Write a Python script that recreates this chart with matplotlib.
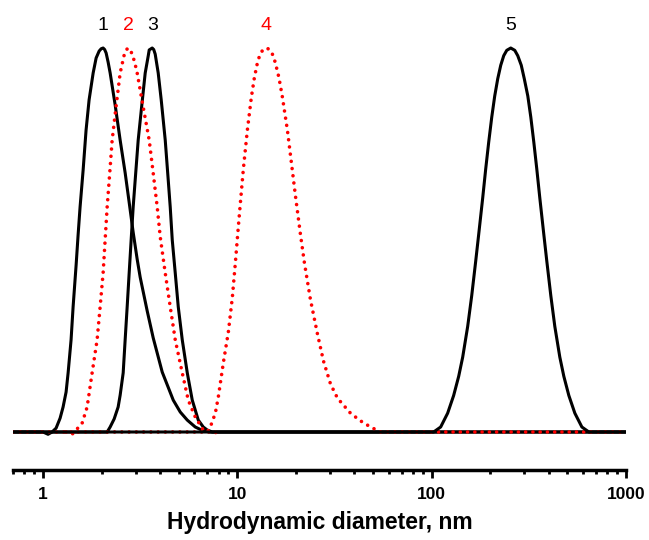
import matplotlib
matplotlib.use("Agg")
import matplotlib.pyplot as plt
from matplotlib.ticker import LogLocator, NullFormatter

plt.rcParams['font.family'] = ['Liberation Sans', 'DejaVu Sans']

# Size distributions: hydrodynamic diameter (nm) vs. normalised intensity (%)
d1 = [0.7, 1.0, 1.061, 1.113, 1.167, 1.224, 1.268, 1.314, 1.346, 1.394, 1.428,
      1.480, 1.515, 1.551, 1.608, 1.665, 1.726, 1.811, 1.876, 1.944, 1.991,
      2.038, 2.075, 2.112, 2.163, 2.215, 2.350, 2.494, 2.646, 2.775, 2.910,
      3.051, 3.162, 3.437, 3.690, 4.106, 4.679, 5.084, 5.525, 6.074, 6.678,
      7.258, 1000]
i1 = [0, 0, -0.6, 0, 1.0, 3.6, 6.5, 10.4, 15.4, 24.0, 32.6,
      43.5, 51.3, 58.6, 68.2, 78.6, 86.5, 93.5, 97.4, 99.2, 99.8,
      100, 99.6, 98.7, 96.3, 93.5, 85.2, 76.0, 67.5, 59.8, 52.0,
      45.0, 40.3, 31.5, 24.5, 15.6, 8.3, 5.2, 3.1, 1.3, 0.3,
      0, 0]

d2 = [1.314, 1.411, 1.497, 1.589, 1.686, 1.789, 1.898, 1.967, 2.038, 2.087,
      2.138, 2.215, 2.268, 2.378, 2.494, 2.616, 2.678, 2.743, 2.808, 2.876,
      2.962, 3.051, 3.278, 3.519, 3.690, 3.869, 4.010, 4.255, 4.514, 4.791,
      5.206, 5.590, 6.074, 6.679, 7.432, 8.0]
i2 = [0, -0.6, 0.8, 2.3, 6.5, 15.4, 24.0, 32.6, 41.4, 50.0,
      58.6, 68.9, 76.0, 84.9, 93.5, 98.2, 99.5, 100, 99.5, 98.4,
      96.3, 93.5, 84.6, 76.0, 67.4, 58.6, 50.8, 41.4, 32.6, 24.0,
      15.4, 8.3, 3.9, 0.5, -0.3, 0]

d3 = [0.7, 2.138, 2.215, 2.323, 2.435, 2.494, 2.585, 2.646, 2.710, 2.775,
      2.841, 2.910, 2.980, 3.088, 3.200, 3.356, 3.477, 3.519, 3.646, 3.712,
      3.778, 3.915, 4.057, 4.255, 4.409, 4.514, 4.624, 4.791, 4.965, 5.206,
      5.525, 5.861, 6.295, 6.679, 7.004, 7.432, 1000]
i3 = [0, 0, 1.3, 3.4, 6.5, 9.6, 15.4, 24.0, 32.6, 41.4,
      50.0, 58.6, 65.6, 76.0, 83.6, 93.5, 97.9, 99.5, 100, 99.6,
      98.4, 93.5, 86.5, 76.0, 65.6, 58.6, 50.0, 41.4, 32.6, 24.0,
      15.4, 8.3, 3.1, 1.3, 0.5, 0, 0]

d4 = [0.7, 7.004, 7.258, 7.704, 7.981, 8.470, 8.987, 9.424, 9.766, 10.12,
      10.36, 10.74, 11.26, 11.81, 12.24, 12.68, 12.98, 13.30, 13.69, 14.11,
      14.54, 14.97, 15.33, 15.70, 16.37, 17.06, 18.10, 18.98, 19.91, 21.12,
      22.15, 23.78, 25.85, 27.75, 30.17, 32.77, 38.23, 43.05, 48.49, 54.60,
      1000]
i4 = [0, 0, 1.3, 4.9, 9.1, 18.0, 26.0, 35.0, 44.0, 53.5,
      59.5, 68.5, 78.6, 87.2, 92.3, 96.1, 97.8, 99.0, 99.7, 100,
      99.7, 99.0, 97.8, 96.1, 92.3, 87.2, 78.6, 70.1, 61.5, 51.5,
      44.0, 34.5, 25.5, 18.5, 12.5, 8.8, 4.9, 2.9, 1.3, 0,
      0]

d5 = [0.7, 102.4, 111.3, 120.9, 129.8, 137.8, 144.5, 153.3, 160.8, 168.6,
      174.7, 183.2, 189.8, 196.7, 203.9, 211.2, 218.9, 226.8, 235.0, 243.6,
      255.4, 267.8, 277.5, 289.3, 299.8, 312.6, 323.9, 335.6, 347.7, 360.3,
      377.8, 391.5, 410.6, 430.5, 456.8, 479.1, 508.4, 545.9, 593.3, 644.7,
      1000]
i5 = [0, 0, 1.3, 4.9, 9.5, 14.5, 19.5, 27.5, 35.5, 44.5,
      51.5, 61.0, 68.5, 75.5, 82.0, 87.5, 92.0, 95.5, 98.0, 99.4,
      100, 99.4, 98.0, 95.5, 92.0, 87.5, 82.0, 75.5, 68.5, 61.0,
      51.5, 44.5, 35.5, 27.5, 19.5, 14.5, 9.5, 4.9, 1.3, 0,
      0]

peak_labels = ["1", "2", "3", "4", "5"]
tick_values = [1, 10, 100, 1000]
tick_labels = ["1", "10", "100", "1000"]
x_title = "Hydrodynamic diameter, nm"

RED = "#ff0000"
BLACK = "#000000"

fig = plt.figure(figsize=(6.49, 5.40), dpi=100)
ax = fig.add_axes([0.01995, 0.1296, 0.9445, 0.8526])
ax.set_xscale('log')
ax.set_xlim(0.7, 1000)
ax.set_ylim(-9.9, 110)

solid = dict(color=BLACK, lw=2.2, solid_joinstyle='round', solid_capstyle='butt')
dotted = dict(color=RED, lw=2.6, linestyle=(0, (0.01, 2.0)),
              dash_capstyle='round')

series = [(d1, i1, BLACK), (d2, i2, RED), (d3, i3, BLACK),
          (d4, i4, RED), (d5, i5, BLACK)]

# black curves 1 and 3 first, red dotted curves over them, curve 5 on top
ax.plot(d1, i1, **solid, zorder=2)
ax.plot(d3, i3, **solid, zorder=2)
ax.plot(d2, i2, **dotted, zorder=3)
ax.plot(d4, i4, **dotted, zorder=3)
ax.plot(d5, i5, **solid, zorder=4)

# peak numbers above each maximum
for label, (d, i, c) in zip(peak_labels, series):
    k = i.index(max(i))
    ax.text(d[k], 104.6, label, ha='center', va='baseline',
            fontsize=14, color=c)

for side in ('left', 'right', 'top'):
    ax.spines[side].set_visible(False)
ax.spines['bottom'].set_linewidth(2.5)
ax.set_yticks([])

ax.set_xticks(tick_values, tick_labels, fontsize=12.5, fontweight='bold')
ax.xaxis.set_minor_locator(LogLocator(base=10, subs=range(2, 10), numticks=20))
ax.xaxis.set_minor_formatter(NullFormatter())
ax.tick_params(axis='x', which='major', direction='out', length=6, width=2,
               pad=6)
ax.tick_params(axis='x', which='minor', direction='out', length=3, width=2)

ax.set_xlabel(x_title, fontsize=16.5, fontweight='bold', labelpad=7)

fig.savefig("out.png", dpi=100, facecolor='white')
